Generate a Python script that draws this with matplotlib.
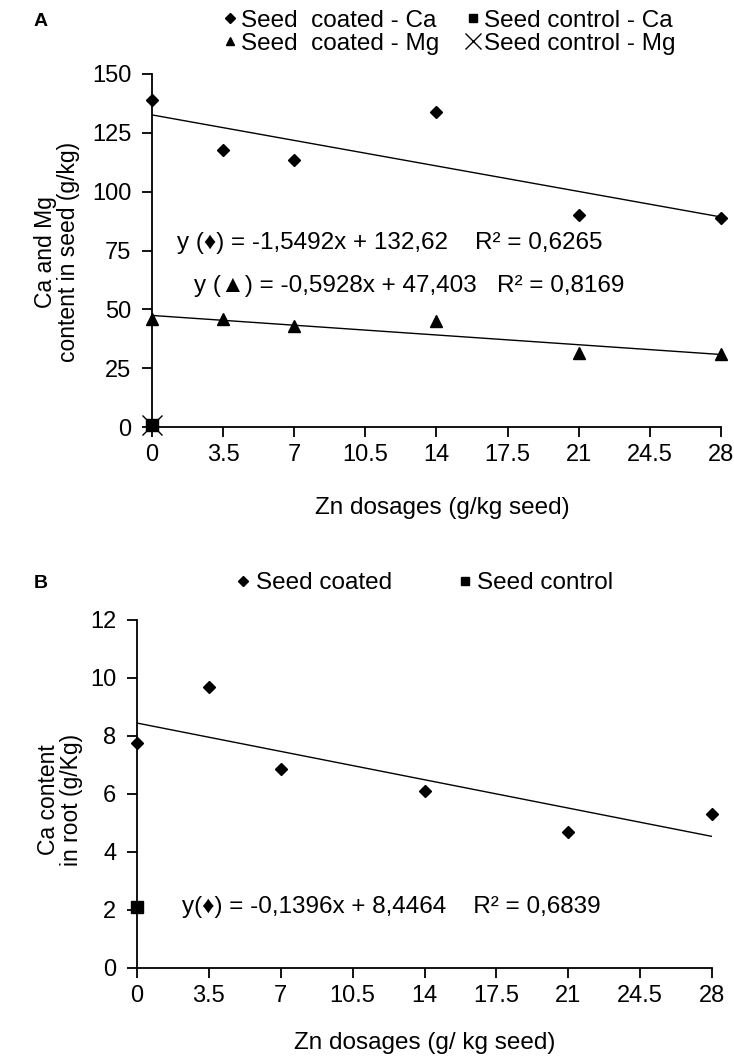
import matplotlib
matplotlib.use('Agg')
import matplotlib.pyplot as plt
import numpy as np

plt.rcParams['font.family'] = ['Liberation Sans', 'DejaVu Sans']

# panel A: Ca and Mg in seed
zn = [0, 3.5, 7, 14, 21, 28]
ca_coated = [139, 117.5, 113.5, 134, 90, 89]
mg_coated = [46, 46, 43, 45, 31.5, 31]
ca_control = [1]
mg_control = [1]
xticks = [0, 3.5, 7, 10.5, 14, 17.5, 21, 24.5, 28]
xticklabels = ['0', '3.5', '7', '10.5', '14', '17.5', '21', '24.5', '28']

# panel B: Ca in root
ca_root_coated = [7.75, 9.7, 6.85, 6.1, 4.7, 5.3]
ca_root_control = [2.1]

W, H = 734, 1064
FS = 17.5
fig = plt.figure(figsize=(W / 100, H / 100), dpi=100)


def box(x0, y0, x1, y1):
    return [x0 / W, 1 - y1 / H, (x1 - x0) / W, (y1 - y0) / H]


def style(ax):
    for s in ['top', 'right']:
        ax.spines[s].set_visible(False)
    for s in ['left', 'bottom']:
        ax.spines[s].set_linewidth(1.3)
    ax.tick_params(direction='out', length=7, width=1.3, labelsize=17)
    ax.tick_params(axis='y', pad=8)
    ax.tick_params(axis='x', pad=5)
    ax.set_xticks(xticks)
    ax.set_xticklabels(xticklabels)
    ax.set_xlim(0, 28)


# ---- A ----
axA = fig.add_axes(box(152, 74, 721, 427))
style(axA)
xl = np.array([0, 28])
axA.plot(xl, -1.5492 * xl + 132.62, color='black', lw=1)
axA.plot(xl, -0.5928 * xl + 47.403, color='black', lw=1)
hA1, = axA.plot(zn, ca_coated, 'D', color='black', ms=6, clip_on=False, label='Seed  coated - Ca')
hA3, = axA.plot(zn, mg_coated, '^', color='black', ms=8, clip_on=False, label='Seed  coated - Mg')
hA2, = axA.plot([0], ca_control, 's', color='black', ms=8, clip_on=False, label='Seed control - Ca')
hA4, = axA.plot([0], mg_control, 'x', color='black', ms=14, mew=1, clip_on=False, label='Seed control - Mg')
axA.set_ylim(0, 150)
axA.set_yticks([0, 25, 50, 75, 100, 125, 150])
axA.legend(handles=[hA1, hA3, hA2, hA4], ncol=2, frameon=False, fontsize=FS,
           loc='center', bbox_to_anchor=(0.52, 1.118), handletextpad=0.05,
           columnspacing=1.0, handlelength=0.8, labelspacing=0.05,
           borderaxespad=0, borderpad=0, markerscale=0.8)
axA.text(1.25, 78, 'y (\u2666) = -1,5492x + 132,62    R\u00b2 = 0,6265', fontsize=FS, va='center')
axA.text(2.05, 60, 'y (\u25b2) = -0,5928x + 47,403   R\u00b2 = 0,8169', fontsize=FS, va='center')
fig.text(442 / W, 1 - 508 / H, 'Zn dosages (g/kg seed)', fontsize=FS, ha='center', va='center')
fig.text(57 / W, 1 - 252 / H, 'Ca and Mg\ncontent in seed (g/kg)', fontsize=16.5,
         ha='center', va='center', rotation=90, linespacing=1.05)
fig.text(41 / W, 1 - 21 / H, 'A', fontsize=14, fontweight='bold', ha='center', va='center')

# ---- B ----
axB = fig.add_axes(box(137, 620, 712, 968))
style(axB)
axB.plot(xl, -0.1396 * xl + 8.4464, color='black', lw=1)
hB1, = axB.plot(zn, ca_root_coated, 'D', color='black', ms=6, clip_on=False, label='Seed coated')
hB2, = axB.plot([0], ca_root_control, 's', color='black', ms=8, clip_on=False, label='Seed control')
axB.set_ylim(0, 12)
axB.set_yticks([0, 2, 4, 6, 8, 10, 12])
axB.legend(handles=[hB1, hB2], ncol=2, frameon=False, fontsize=FS,
           loc='center', bbox_to_anchor=(0.498, 1.105), handletextpad=0.1,
           columnspacing=2.6, handlelength=0.8, borderaxespad=0, borderpad=0,
           markerscale=0.8)
axB.text(2.2, 2.1, 'y(\u2666) = -0,1396x + 8,4464    R\u00b2 = 0,6839', fontsize=FS, va='center')
fig.text(425 / W, 1 - 1043 / H, 'Zn dosages (g/ kg seed)', fontsize=FS, ha='center', va='center')
fig.text(60 / W, 1 - 800 / H, 'Ca content\nin root (g/Kg)', fontsize=16.5,
         ha='center', va='center', rotation=90, linespacing=1.05)
fig.text(41 / W, 1 - 584 / H, 'B', fontsize=14, fontweight='bold', ha='center', va='center')

fig.savefig('out.png', dpi=100)
